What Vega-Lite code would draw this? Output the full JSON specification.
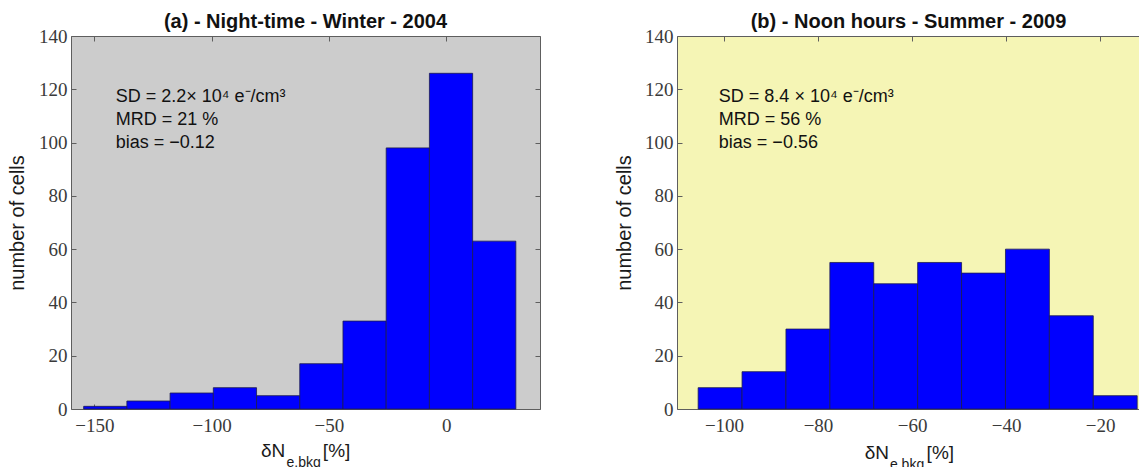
{
  "$schema": "https://vega.github.io/schema/vega-lite/v6.json",
  "background": "white",
  "padding": {"left": 7, "top": 12, "right": 0, "bottom": 0},
  "spacing": 73,
  "datasets": {
    "a": [
      {"lo": -154.6, "hi": -136.17, "n": 1},
      {"lo": -136.17, "hi": -117.74, "n": 3},
      {"lo": -117.74, "hi": -99.31, "n": 6},
      {"lo": -99.31, "hi": -80.88, "n": 8},
      {"lo": -80.88, "hi": -62.45, "n": 5},
      {"lo": -62.45, "hi": -44.02, "n": 17},
      {"lo": -44.02, "hi": -25.59, "n": 33},
      {"lo": -25.59, "hi": -7.16, "n": 98},
      {"lo": -7.16, "hi": 11.27, "n": 126},
      {"lo": 11.27, "hi": 29.7, "n": 63}
    ],
    "b": [
      {"lo": -105.5, "hi": -96.16, "n": 8},
      {"lo": -96.16, "hi": -86.82, "n": 14},
      {"lo": -86.82, "hi": -77.48, "n": 30},
      {"lo": -77.48, "hi": -68.14, "n": 55},
      {"lo": -68.14, "hi": -58.8, "n": 47},
      {"lo": -58.8, "hi": -49.46, "n": 55},
      {"lo": -49.46, "hi": -40.12, "n": 51},
      {"lo": -40.12, "hi": -30.78, "n": 60},
      {"lo": -30.78, "hi": -21.44, "n": 35},
      {"lo": -21.44, "hi": -12.1, "n": 5}
    ]
  },
  "config": {
    "view": {"stroke": null},
    "axis": {
      "grid": false,
      "domain": true,
      "domainColor": "#5e5e5e",
      "domainWidth": 1,
      "tickColor": "#5e5e5e",
      "tickSize": -5,
      "labelFont": "Liberation Serif",
      "labelFontSize": 19,
      "labelColor": "#3a3a3a",
      "labelPadding": 12,
      "titleFont": "Liberation Sans",
      "titleFontSize": 20,
      "titleFontWeight": "normal",
      "titleColor": "#1a1a1a"
    },
    "title": {"font": "Liberation Sans", "fontSize": 20, "fontWeight": "bold", "color": "#111111", "offset": -5}
  },
  "hconcat": [
    {
      "width": 469,
      "height": 373,
      "view": {"fill": "#CCCCCC", "stroke": null},
      "title": "(a) - Night-time - Winter - 2004",
      "layer": [
        {
          "data": {"name": "a"},
          "mark": {"type": "bar", "fill": "#0000FF", "stroke": "#1c1c50", "strokeWidth": 0.8},
          "encoding": {
            "x": {"field": "lo", "type": "quantitative", "scale": {"domain": [-160, 40], "nice": false, "zero": false},
                  "axis": {"values": [-150, -100, -50, 0], "title": null}},
            "x2": {"field": "hi"},
            "y": {"field": "n", "type": "quantitative", "scale": {"domain": [0, 140], "nice": false},
                  "axis": {"values": [0, 20, 40, 60, 80, 100, 120, 140], "title": "number of cells", "labelPadding": 9, "titlePadding": 11}},
            "y2": {"datum": 0}
          }
        },
        {
          "data": {"name": "a"},
          "mark": {"type": "point", "opacity": 0},
          "encoding": {
            "x": {"field": "lo", "type": "quantitative", "axis": {"orient": "top", "labels": false, "values": [-150, -100, -50, 0], "title": null}},
            "y": {"field": "n", "type": "quantitative", "axis": {"orient": "right", "labels": false, "values": [0, 20, 40, 60, 80, 100, 120, 140], "title": null}}
          }
        },
        {
          "data": {"values": [{}]},
          "mark": {"type": "text", "align": "left", "baseline": "alphabetic", "font": "Liberation Sans", "fontSize": 18, "color": "#111111", "lineHeight": 23.3},
          "encoding": {
            "x": {"datum": -140.9, "type": "quantitative", "axis": null},
            "y": {"datum": 115.4, "type": "quantitative", "axis": null},
            "text": {"value": ["SD = 2.2× 10⁴ e⁻/cm³", "MRD = 21 %", "bias = −0.12"]}
          }
        },
        {
          "data": {"values": [{}]},
          "mark": {"type": "text", "align": "right", "baseline": "alphabetic", "font": "Liberation Sans", "fontSize": 19, "color": "#1a1a1a"},
          "encoding": {
            "x": {"datum": -68.6, "type": "quantitative", "axis": null},
            "y": {"datum": -18.0, "type": "quantitative", "axis": null},
            "text": {"value": "δN"}
          }
        },
        {
          "data": {"values": [{}]},
          "mark": {"type": "text", "align": "left", "baseline": "alphabetic", "font": "Liberation Sans", "fontSize": 14, "color": "#1a1a1a"},
          "encoding": {
            "x": {"datum": -68.1, "type": "quantitative", "axis": null},
            "y": {"datum": -21.8, "type": "quantitative", "axis": null},
            "text": {"value": "e,bkg"}
          }
        },
        {
          "data": {"values": [{}]},
          "mark": {"type": "text", "align": "left", "baseline": "alphabetic", "font": "Liberation Sans", "fontSize": 19, "color": "#1a1a1a"},
          "encoding": {
            "x": {"datum": -52.6, "type": "quantitative", "axis": null},
            "y": {"datum": -18.0, "type": "quantitative", "axis": null},
            "text": {"value": "[%]"}
          }
        }
      ],
      "resolve": {"axis": {"x": "independent", "y": "independent"}}
    },
    {
      "width": 463,
      "height": 373,
      "view": {"fill": "#F5F5B5", "stroke": null},
      "title": "(b) - Noon hours - Summer - 2009",
      "layer": [
        {
          "data": {"name": "b"},
          "mark": {"type": "bar", "fill": "#0000FF", "stroke": "#1c1c50", "strokeWidth": 0.8},
          "encoding": {
            "x": {"field": "lo", "type": "quantitative", "scale": {"domain": [-110, -11.5], "nice": false, "zero": false},
                  "axis": {"values": [-100, -80, -60, -40, -20], "title": null}},
            "x2": {"field": "hi"},
            "y": {"field": "n", "type": "quantitative", "scale": {"domain": [0, 140], "nice": false},
                  "axis": {"values": [0, 20, 40, 60, 80, 100, 120, 140], "title": "number of cells", "labelPadding": 9, "titlePadding": 10}},
            "y2": {"datum": 0}
          }
        },
        {
          "data": {"name": "b"},
          "mark": {"type": "point", "opacity": 0},
          "encoding": {
            "x": {"field": "lo", "type": "quantitative", "axis": {"orient": "top", "labels": false, "values": [-100, -80, -60, -40, -20], "title": null}},
            "y": {"field": "n", "type": "quantitative", "axis": null}
          }
        },
        {
          "data": {"values": [{}]},
          "mark": {"type": "text", "align": "left", "baseline": "alphabetic", "font": "Liberation Sans", "fontSize": 18, "color": "#111111", "lineHeight": 23.3},
          "encoding": {
            "x": {"datum": -101.1, "type": "quantitative", "axis": null},
            "y": {"datum": 115.4, "type": "quantitative", "axis": null},
            "text": {"value": ["SD = 8.4 × 10⁴ e⁻/cm³", "MRD = 56 %", "bias = −0.56"]}
          }
        },
        {
          "data": {"values": [{}]},
          "mark": {"type": "text", "align": "right", "baseline": "alphabetic", "font": "Liberation Sans", "fontSize": 19, "color": "#1a1a1a"},
          "encoding": {
            "x": {"datum": -64.9, "type": "quantitative", "axis": null},
            "y": {"datum": -18.9, "type": "quantitative", "axis": null},
            "text": {"value": "δN"}
          }
        },
        {
          "data": {"values": [{}]},
          "mark": {"type": "text", "align": "left", "baseline": "alphabetic", "font": "Liberation Sans", "fontSize": 14, "color": "#1a1a1a"},
          "encoding": {
            "x": {"datum": -64.7, "type": "quantitative", "axis": null},
            "y": {"datum": -22.6, "type": "quantitative", "axis": null},
            "text": {"value": "e,bkg"}
          }
        },
        {
          "data": {"values": [{}]},
          "mark": {"type": "text", "align": "left", "baseline": "alphabetic", "font": "Liberation Sans", "fontSize": 19, "color": "#1a1a1a"},
          "encoding": {
            "x": {"datum": -56.9, "type": "quantitative", "axis": null},
            "y": {"datum": -18.9, "type": "quantitative", "axis": null},
            "text": {"value": "[%]"}
          }
        }
      ],
      "resolve": {"axis": {"x": "independent", "y": "independent"}}
    }
  ]
}
